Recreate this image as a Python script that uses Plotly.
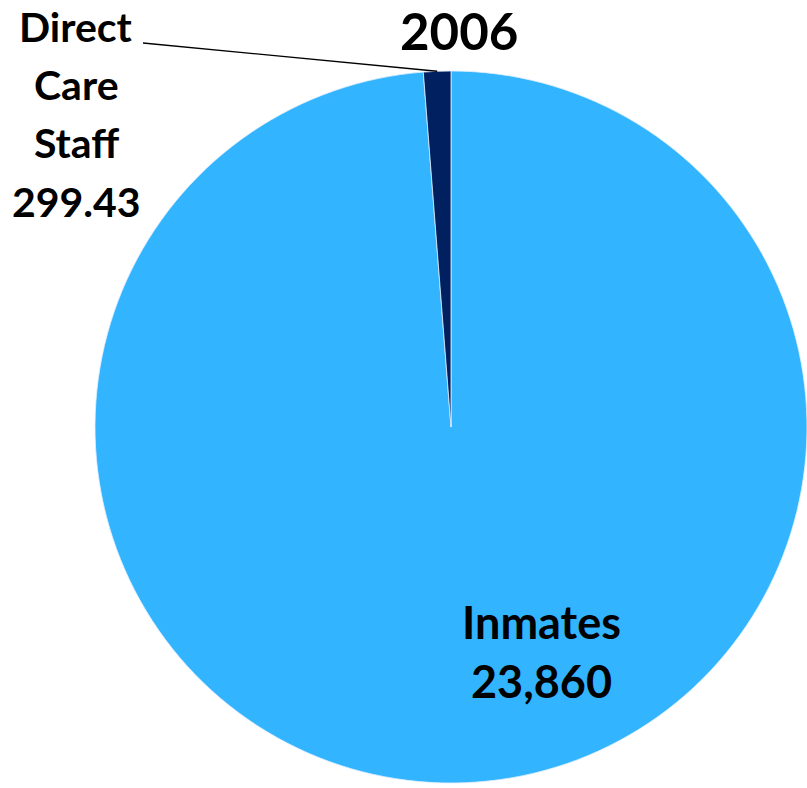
import math
import plotly.graph_objects as go

# Data
year = "2006"
categories = ["Inmates", "Direct Care Staff"]
values = [23860, 299.43]
colors = ["#33B4FE", "#002060"]

W, H = 807, 788
# pie placement in pixels
cx, cy, r = 451, 427, 356

def px(x):
    return x / W

def py(y):
    return 1 - y / H

FONT = "Lato"

fig = go.Figure(
    go.Pie(
        labels=categories,
        values=values,
        sort=False,
        direction="clockwise",
        rotation=0,
        textinfo="none",
        hoverinfo="label+value",
        marker=dict(colors=colors, line=dict(color="#dfefff", width=0.8)),
        domain=dict(x=[px(cx - r), px(cx + r)], y=[py(cy + r), py(cy - r)]),
        showlegend=False,
    )
)

annotations = []

def add_text(text, x, y, size):
    annotations.append(
        dict(
            text=f"<b>{text}</b>",
            x=px(x), y=py(y), xref="paper", yref="paper",
            xanchor="center", yanchor="middle", showarrow=False,
            font=dict(family=FONT, size=size, color="#000000"),
        )
    )

# Title
add_text(year, 459, 31, 51)

# Direct Care Staff label, one line at a time
staff_lines = categories[1].split(" ") + [f"{values[1]:,.2f}"]
for i, line in enumerate(staff_lines):
    add_text(line, 76, 26 + i * 58.5, 41)

# Inmates label
add_text(categories[0], 541, 622, 45)
add_text(f"{values[0]:,.0f}", 541, 681, 45)

# Leader line to the middle of the small slice's arc
total = sum(values)
half_angle = math.radians(360 * values[1] / total / 2)
ex = cx - r * math.sin(half_angle)
ey = cy - r * math.cos(half_angle)
shapes = [
    dict(
        type="line", xref="paper", yref="paper",
        x0=px(143), y0=py(43), x1=px(ex), y1=py(ey),
        line=dict(color="#000000", width=1.3),
    )
]

fig.update_layout(
    width=W, height=H,
    margin=dict(l=0, r=0, t=0, b=0),
    paper_bgcolor="#ffffff",
    plot_bgcolor="#ffffff",
    annotations=annotations,
    shapes=shapes,
)

fig.write_html("out.html")
